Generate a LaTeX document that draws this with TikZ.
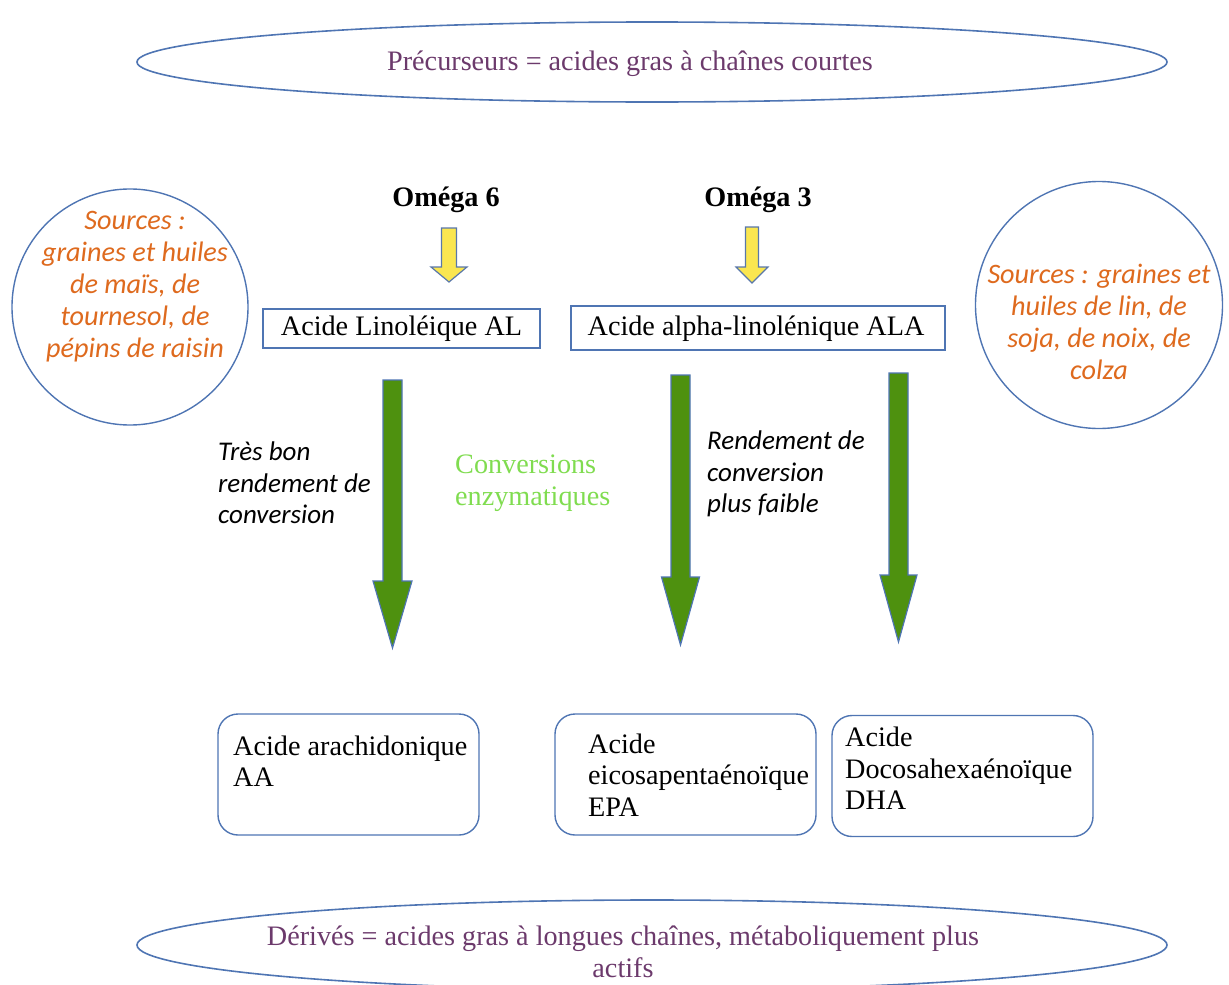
\documentclass[tikz,border=0pt]{standalone}
\usepackage{fontspec}
\setmainfont{Liberation Serif}
\newfontfamily\candfont{Carlito}
\usetikzlibrary{shapes.geometric}
\definecolor{blueline}{RGB}{79,117,179}
\definecolor{srcorange}{RGB}{222,106,30}
\definecolor{purpletxt}{RGB}{108,58,108}
\definecolor{arrowgreen}{RGB}{78,145,15}
\definecolor{arrowyellow}{RGB}{250,230,80}
\definecolor{lightgreen}{RGB}{128,220,80}
\newcommand\blockarrow[7]{%
  \draw[#1] (#2-#6,#3) -- (#2+#6,#3) -- (#2+#6,#4) -- (#2+#7,#4) -- (#2,#5)
    -- (#2-#7,#4) -- (#2-#6,#4) -- cycle;}
\tikzset{
  serif27/.style={font=\fontsize{28.2}{31.5}\selectfont},
  oval/.style={ellipse, draw=blueline, line width=1.6pt, inner sep=0pt},
  srccircle/.style={circle, draw=blueline, line width=1.4pt, inner sep=0pt},
  srctext/.style={font=\candfont\itshape\fontsize{28.2}{32}\selectfont, text=srcorange, align=center},
  italictext/.style={font=\candfont\itshape\fontsize{27}{31.5}\selectfont, align=left, anchor=west, inner sep=0pt},
  acidbox/.style={draw=blueline, line width=1.4pt, inner sep=0pt},
  derivbox/.style={draw=blueline, line width=1.4pt, rounded corners=20pt, inner sep=0pt, minimum width=261pt, minimum height=121pt},
  boxtext/.style={serif27, align=left, anchor=west, inner sep=0pt},
  greenarrow/.style={fill=arrowgreen, draw=blueline, line width=1.2pt, line join=miter},
  yellowarrow/.style={fill=arrowyellow, draw=blueline!80!gray, line width=1.2pt, line join=miter},
}
\begin{document}
\begin{tikzpicture}[x=1pt, y=-1pt]
\useasboundingbox (0,0) rectangle (1229,985);
\clip (0,0) rectangle (1229,985);
% top and bottom ovals
\node[oval, minimum width=1030pt, minimum height=80pt] (top) at (652,62) {};
\node[serif27, text=purpletxt] (toptext) at (630,64) {Précurseurs = acides gras à chaînes courtes};
\node[oval, minimum width=1030pt, minimum height=90pt] (bot) at (652,945) {};
\node[serif27, text=purpletxt, align=center] (bottext) at (623,952) {Dérivés = acides gras à longues chaînes, métaboliquement plus\\actifs};
% source circles
\node[srccircle, minimum size=236pt] (srcL) at (130,307) {};
\node[srctext] (srcLtext) at (135,287) {Sources :\\graines et huiles\\de maïs, de\\tournesol, de\\pépins de raisin};
\node[srccircle, minimum size=247pt] (srcR) at (1099,305) {};
\node[srctext] (srcRtext) at (1099,322) {Sources : graines et\\huiles de lin, de\\soja, de noix, de\\colza};
% omega labels
\node[serif27, font=\bfseries\fontsize{28.2}{31.5}\selectfont] (o6) at (446,200) {Oméga 6};
\node[serif27, font=\bfseries\fontsize{28.2}{31.5}\selectfont] (o3) at (758,200) {Oméga 3};
% yellow arrows
\blockarrow{yellowarrow}{449}{228}{267}{282}{7.5}{18}
\blockarrow{yellowarrow}{752}{227}{267}{283}{6.5}{16}
% precursor boxes
\node[acidbox, minimum width=277pt, minimum height=39pt] (al) at (401.5,328.5) {};
\node[serif27] (altext) at (401.5,329) {Acide Linoléique AL};
\node[acidbox, minimum width=374pt, minimum height=44pt] (ala) at (758,328) {};
\node[serif27] (alatext) at (756,329) {Acide alpha-linolénique ALA};
% green arrows
\blockarrow{greenarrow}{392.5}{380}{581}{648}{9.5}{19.5}
\blockarrow{greenarrow}{680.5}{375}{577}{645}{9.5}{19}
\blockarrow{greenarrow}{898.5}{373}{575}{642}{9.5}{18.5}
% labels
\node[italictext] (t1) at (218,483) {Très bon\\rendement de\\conversion};
\node[serif27, text=lightgreen, align=left, anchor=west, inner sep=0pt] (t2) at (455,483) {Conversions\\enzymatiques};
\node[italictext] (t3) at (707,474) {Rendement de\\conversion\\plus faible};
% derived boxes
\node[derivbox] (aa) at (348.5,774.5) {};
\node[boxtext] (aatext) at (233,761) {Acide arachidonique\\AA};
\node[derivbox] (epa) at (685.5,774.5) {};
\node[boxtext] (epatext) at (588,775) {Acide\\eicosapentaénoïque\\EPA};
\node[derivbox] (dha) at (962.5,776) {};
\node[boxtext] (dhatext) at (845,768.5) {Acide\\Docosahexaénoïque\\DHA};
\end{tikzpicture}
\end{document}
